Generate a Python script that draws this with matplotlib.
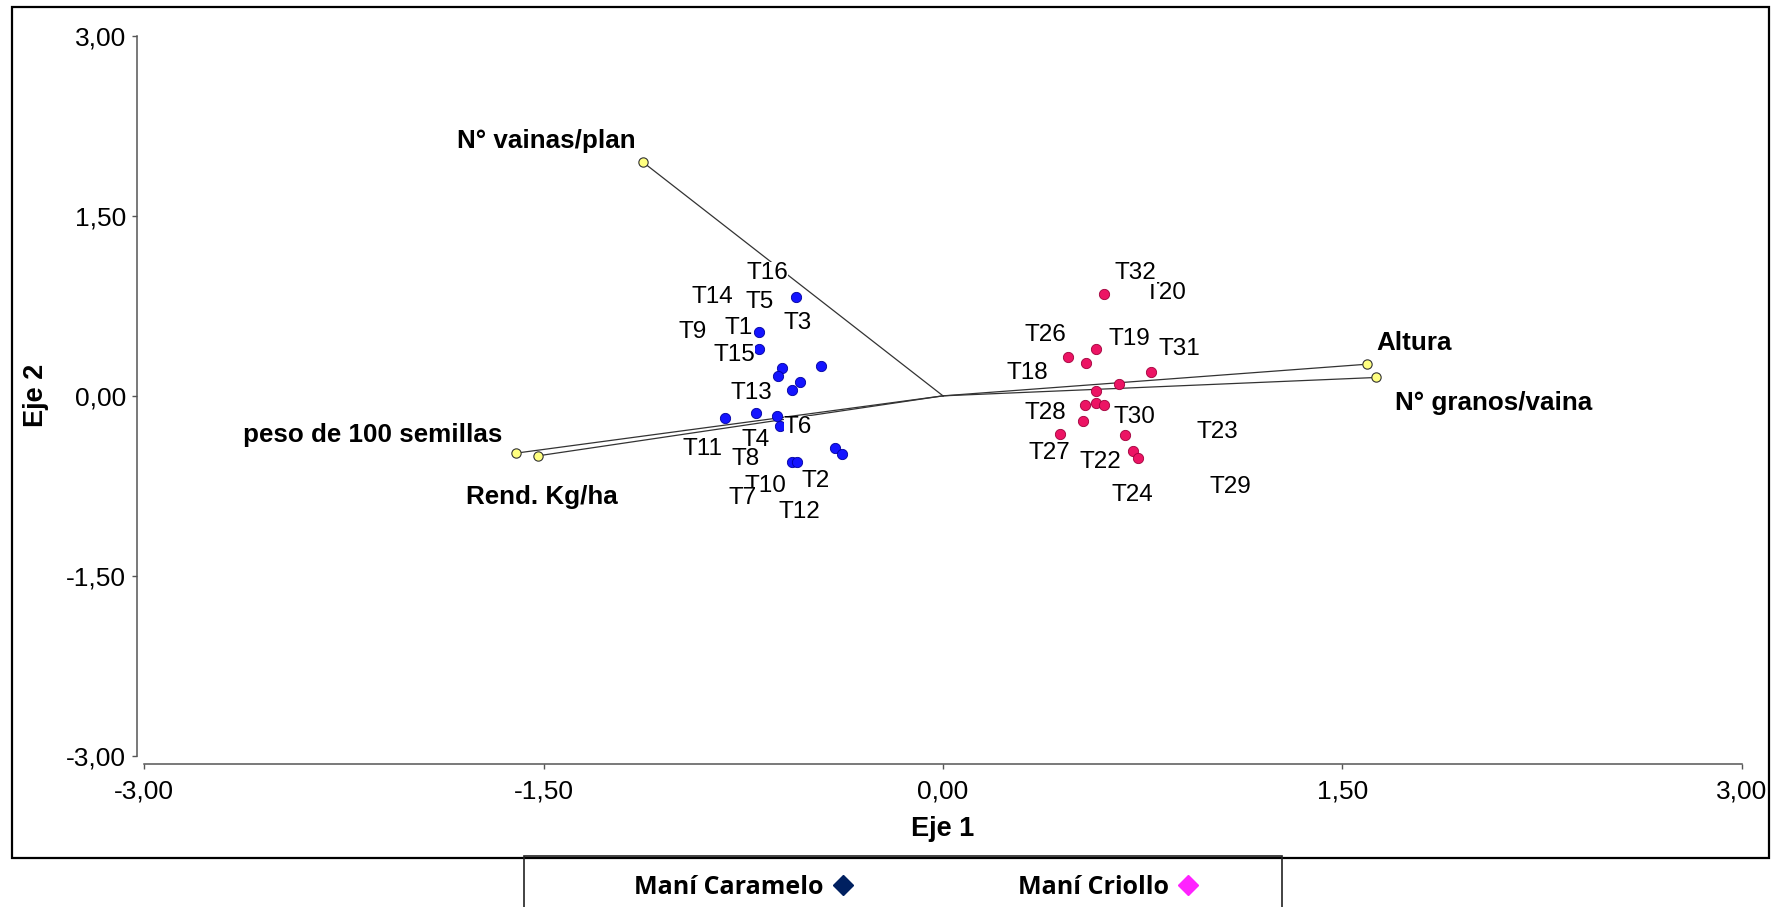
import matplotlib
matplotlib.use("Agg")
import matplotlib.pyplot as plt
from matplotlib.lines import Line2D
from matplotlib.patches import Rectangle
from matplotlib.ticker import FuncFormatter

plt.rcParams['font.family'] = ['Liberation Sans', 'DejaVu Sans']

# Maní Caramelo (blue) observations
caramelo_x = [-0.553, -0.691, -0.693, -0.603, -0.620, -0.459, -0.537, -0.566,
              -0.819, -0.701, -0.622, -0.407, -0.378, -0.566, -0.547, -0.611]
caramelo_y = [0.828, 0.536, 0.389, 0.231, 0.167, 0.250, 0.119, 0.050,
              -0.181, -0.139, -0.167, -0.436, -0.484, -0.553, -0.548, -0.250]
caramelo_labels = ["T16", "T14", "T5", "T3", "T9", "T1", "T15", "T13", "T6",
                   "T11", "T4", "T8", "T10", "T2", "T7", "T12"]
caramelo_lab_x = [-0.660, -0.866, -0.687, -0.545, -0.941, -0.766, -0.785, -0.720,
                  -0.545, -0.904, -0.704, -0.741, -0.666, -0.478, -0.753, -0.541]
caramelo_lab_y = [1.023, 0.828, 0.786, 0.611, 0.536, 0.564, 0.342, 0.023,
                  -0.256, -0.444, -0.367, -0.528, -0.750, -0.714, -0.853, -0.965]

# Maní Criollo (pink) observations
criollo_x = [0.606, 0.470, 0.573, 0.538, 0.782, 0.661, 0.573, 0.532,
             0.573, 0.606, 0.526, 0.438, 0.684, 0.715, 0.731]
criollo_y = [0.846, 0.326, 0.390, 0.271, 0.202, 0.100, 0.042, -0.075,
             -0.056, -0.075, -0.208, -0.317, -0.325, -0.459, -0.520]
criollo_labels = ["T20", "T32", "T26", "T19", "T31", "T18", "T28", "T30",
                  "T23", "T27", "T22", "T24", "T29"]
criollo_lab_x = [0.836, 0.724, 0.386, 0.699, 0.886, 0.317, 0.386, 0.718,
                 1.031, 0.398, 0.592, 0.711, 1.078]
criollo_lab_y = [0.856, 1.028, 0.509, 0.473, 0.389, 0.194, -0.139, -0.173,
                 -0.298, -0.478, -0.548, -0.825, -0.761]

# variable vectors
var_names = ["N° vainas/plan", "peso de 100 semillas", "Rend. Kg/ha",
             "Altura", "N° granos/vaina"]
var_x = [-1.127, -1.605, -1.521, 1.594, 1.625]
var_y = [1.948, -0.478, -0.500, 0.264, 0.153]
var_lab_x = [-1.824, -1.655, -1.793, 1.629, 1.697]
var_lab_y = [2.128, -0.325, -0.840, 0.439, -0.061]
var_lab_ha = ["left", "right", "left", "left", "left"]

ticks = [-3.0, -1.5, 0.0, 1.5, 3.0]

W, H = 1782, 907
fig = plt.figure(figsize=(W / 100, H / 100), dpi=100)
ax = fig.add_axes([144.3 / W, (H - 755.7) / H, 1597.4 / W, 719.7 / H])
ax.set_xlim(-3, 3)
ax.set_ylim(-3, 3)

# outer frame
fig.patches.append(Rectangle((12 / W, (H - 858) / H), 1757 / W, 851 / H,
                             transform=fig.transFigure, fill=False,
                             edgecolor="black", linewidth=1.6))

# vectors from origin
for vx, vy in zip(var_x, var_y):
    ax.plot([0, vx], [0, vy], color="#333333", linewidth=0.9, zorder=2)
ax.scatter(var_x, var_y, s=45, color="#ffff80", edgecolor="#333333",
           linewidth=0.8, zorder=3)
for name, lx, ly, ha in zip(var_names, var_lab_x, var_lab_y, var_lab_ha):
    ax.text(lx, ly, name, ha=ha, va="center", fontsize=18.7, fontweight="bold",
            zorder=5)

# observations
ax.scatter(caramelo_x, caramelo_y, s=55, color="#1414ff", edgecolor="#0000a0",
           linewidth=0.6, zorder=3)
ax.scatter(criollo_x, criollo_y, s=55, color="#ec1464", edgecolor="#a0003c",
           linewidth=0.6, zorder=3)

box = dict(facecolor="white", edgecolor="none", pad=0)
for lab, lx, ly in zip(caramelo_labels, caramelo_lab_x, caramelo_lab_y):
    ax.text(lx, ly, lab, ha="center", va="center", fontsize=17.5, bbox=box,
            zorder=4)
for lab, lx, ly in zip(criollo_labels, criollo_lab_x, criollo_lab_y):
    ax.text(lx, ly, lab, ha="center", va="center", fontsize=17.5, bbox=box,
            zorder=4)

# axes styling
for side in ["top", "right"]:
    ax.spines[side].set_visible(False)
ax.spines["left"].set_position(("outward", 5.5))
ax.spines["bottom"].set_position(("outward", 6.2))
ax.spines["left"].set_bounds(-3, 3)
ax.spines["bottom"].set_bounds(-3, 3)
for side in ["left", "bottom"]:
    ax.spines[side].set_color("#555555")
    ax.spines[side].set_linewidth(1.1)
ax.set_xticks(ticks)
ax.set_yticks(ticks)
fmt = FuncFormatter(lambda v, p: f"{v:.2f}".replace(".", ","))
ax.xaxis.set_major_formatter(fmt)
ax.yaxis.set_major_formatter(fmt)
ax.tick_params(axis="both", direction="out", length=3.6, width=1,
               color="#555555", labelsize=19)
ax.tick_params(axis="x", pad=7)
ax.tick_params(axis="y", pad=4)
ax.set_xlabel("Eje 1", fontsize=19.5, fontweight="bold", labelpad=9)
ax.set_ylabel("Eje 2", fontsize=19.5, fontweight="bold", labelpad=12)

# legend box and legend
fig.patches.append(Rectangle((524 / W, -0.05), 758 / W, (H - 856) / H + 0.05,
                             transform=fig.transFigure, fill=False,
                             edgecolor="#222222", linewidth=1.2))
handles = [Line2D([], [], marker="D", ls="", color="#002060", markersize=10),
           Line2D([], [], marker="D", ls="", color="#ff22ff", markersize=10)]
fig.legend(handles, ["Maní Caramelo", "Maní Criollo"], loc="center",
           bbox_to_anchor=(917 / W, (H - 887) / H), ncol=2, frameon=False,
           markerfirst=False, handlelength=1, handletextpad=0.26,
           columnspacing=6.5, borderpad=0,
           prop={"family": "Open Sans", "weight": "bold", "size": 18})

fig.savefig("out.png", dpi=100)
